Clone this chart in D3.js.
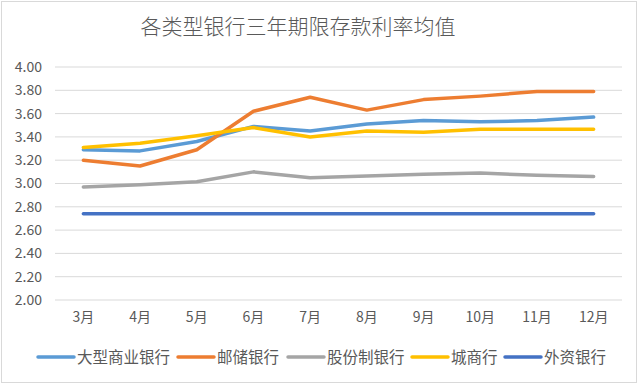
<!DOCTYPE html>
<html>
<head>
<meta charset="utf-8">
<script src="https://cdn.jsdelivr.net/npm/d3@7"></script>
<style>
  body { margin: 0; background: #fff; }
  text { font-family: "Noto Sans CJK SC", "Noto Sans", sans-serif; fill: #595959; }
</style>
</head>
<body>
<div id="chart"></div>
<script>
// data
const months = ["3月", "4月", "5月", "6月", "7月", "8月", "9月", "10月", "11月", "12月"];
const yTicks = [2.00, 2.20, 2.40, 2.60, 2.80, 3.00, 3.20, 3.40, 3.60, 3.80, 4.00];
const bigBanks   = [3.29, 3.28, 3.36, 3.49, 3.45, 3.51, 3.54, 3.53, 3.54, 3.57];
const postal     = [3.20, 3.15, 3.29, 3.62, 3.74, 3.63, 3.72, 3.75, 3.79, 3.79];
const jointStock = [2.97, 2.99, 3.015, 3.10, 3.05, 3.065, 3.08, 3.09, 3.07, 3.06];
const cityBanks  = [3.31, 3.345, 3.41, 3.48, 3.40, 3.45, 3.44, 3.465, 3.465, 3.465];
const foreign    = [2.74, 2.74, 2.74, 2.74, 2.74, 2.74, 2.74, 2.74, 2.74, 2.74];

const series = [
    {name: "大型商业银行", color: "#5B9BD5", values: bigBanks},
    {name: "邮储银行", color: "#ED7D31", values: postal},
    {name: "股份制银行", color: "#A5A5A5", values: jointStock},
    {name: "城商行", color: "#FFC000", values: cityBanks},
    {name: "外资银行", color: "#4472C4", values: foreign}
];

const width = 640, height = 384;
const margin = {top: 67, right: 18, bottom: 84, left: 55};

const svg = d3.select("#chart").append("svg")
    .attr("width", width)
    .attr("height", height);

// outer frame
svg.append("rect")
    .attr("x", 1.5).attr("y", 1.5)
    .attr("width", 635).attr("height", 381)
    .attr("fill", "#fff")
    .attr("stroke", "#d9d9d9");

svg.append("text")
    .attr("x", 298)
    .attr("y", 34)
    .attr("text-anchor", "middle")
    .style("font-size", "21px")
    .style("font-weight", 300)
    .text("各类型银行三年期限存款利率均值");

const xScale = d3.scaleBand()
    .domain(months)
    .range([margin.left, width - margin.right]);

const yScale = d3.scaleLinear()
    .domain([2, 4])
    .range([height - margin.bottom, margin.top]);

// gridlines
svg.append("g")
    .selectAll("line")
    .data(yTicks)
    .enter()
    .append("line")
    .attr("x1", margin.left)
    .attr("x2", width - margin.right)
    .attr("y1", d => yScale(d))
    .attr("y2", d => yScale(d))
    .attr("stroke", "#d9d9d9")
    .attr("stroke-width", 1);

// y axis labels
const yAxis = d3.axisLeft(yScale).tickValues(yTicks).tickFormat(d3.format(".2f")).tickSize(0).tickPadding(0);
const yAxisG = svg.append("g")
    .attr("transform", "translate(42,0)")
    .call(yAxis);
yAxisG.select(".domain").remove();
yAxisG.selectAll("text")
    .style("font-size", "14px")
    .attr("fill", "#595959");

// x axis labels
const xAxis = d3.axisBottom(xScale).tickSize(0).tickPadding(0);
const xAxisG = svg.append("g")
    .attr("transform", "translate(0," + (height - margin.bottom + 12) + ")")
    .call(xAxis);
xAxisG.select(".domain").remove();
xAxisG.selectAll("text")
    .style("font-size", "14px")
    .attr("fill", "#595959");

const line = d3.line()
    .x((d, i) => xScale(months[i]) + xScale.bandwidth() / 2)
    .y(d => yScale(d));

svg.append("g")
    .selectAll("path")
    .data(series)
    .enter()
    .append("path")
    .attr("d", d => line(d.values))
    .attr("fill", "none")
    .attr("stroke", d => d.color)
    .attr("stroke-width", 3.5)
    .attr("stroke-linejoin", "round")
    .attr("stroke-linecap", "round");

// legend
const legendX = [38, 178, 288, 412, 505];
const legend = svg.append("g")
    .selectAll("g")
    .data(series)
    .enter()
    .append("g")
    .attr("transform", (d, i) => "translate(" + legendX[i] + ",357)");
legend.append("line")
    .attr("x1", 0).attr("x2", 36)
    .attr("stroke", d => d.color)
    .attr("stroke-width", 3.5)
    .attr("stroke-linecap", "round");
legend.append("text")
    .attr("x", 39)
    .attr("y", 5.5)
    .style("font-size", "15.5px")
    .text(d => d.name);
</script>
</body>
</html>
